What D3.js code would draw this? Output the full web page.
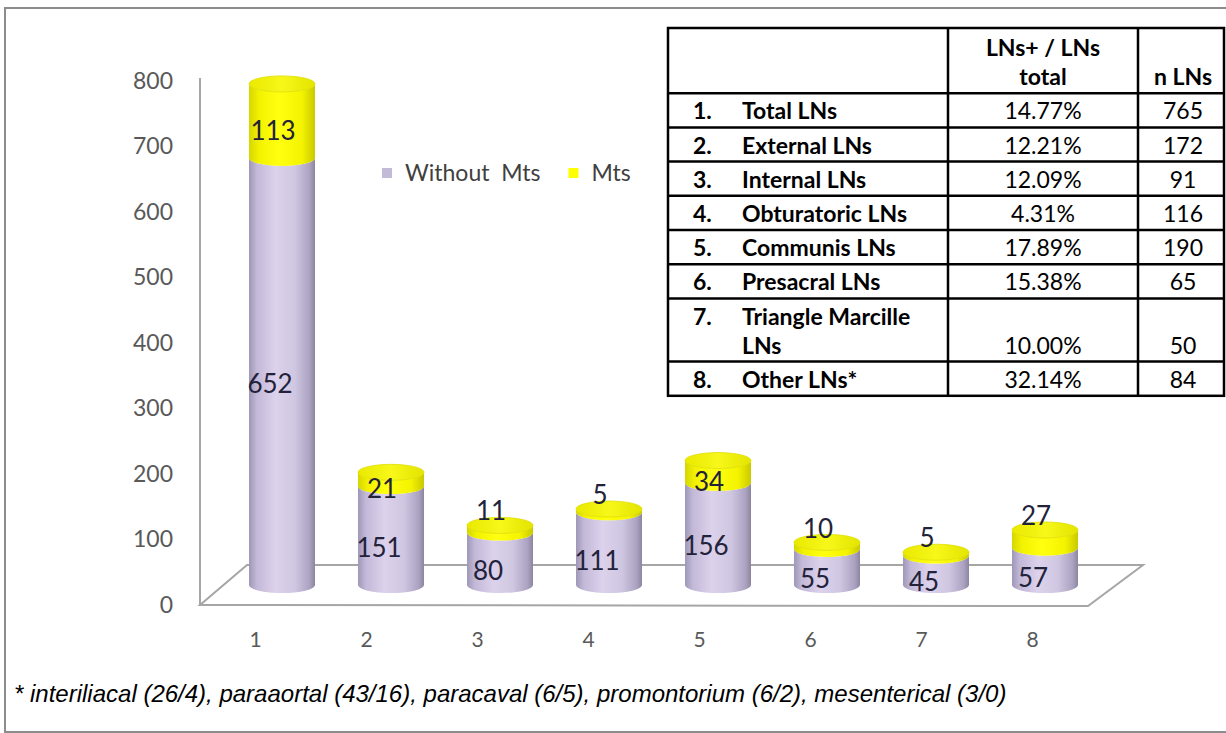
<!DOCTYPE html>
<html lang="en">
<head>
<meta charset="UTF-8">
<title>LNs with and without Mts</title>
<script src="https://cdnjs.cloudflare.com/ajax/libs/d3/7.8.5/d3.min.js"></script>
<style>
  body { margin: 0; background: #fff; overflow: hidden; }
  svg { display: block; }
</style>
</head>
<body>
<div id="chart"></div>
<script>
// chart data
const categories = ["1", "2", "3", "4", "5", "6", "7", "8"];
const withoutMts = [652, 151, 80, 111, 156, 55, 45, 57];
const mts = [113, 21, 11, 5, 34, 10, 5, 27];
const yTicks = [0, 100, 200, 300, 400, 500, 600, 700, 800];
const legendLabels = ["Without  Mts", "Mts"];

// table data
const tableHeader = ["", "LNs+ / LNs total", "n LNs"];
const tableNames = ["Total LNs", "External LNs", "Internal LNs", "Obturatoric LNs",
  "Communis LNs", "Presacral LNs", "Triangle Marcille LNs", "Other LNs*"];
const tablePct = ["14.77%", "12.21%", "12.09%", "4.31%", "17.89%", "15.38%", "10.00%", "32.14%"];
const tableN = [765, 172, 91, 116, 190, 65, 50, 84];

const footnote = "* interiliacal (26/4), paraaortal (43/16), paracaval (6/5), promontorium (6/2), mesenterical (3/0)";

const width = 1226, height = 733;
const chartFont = "Lato, 'Open Sans', sans-serif";

const svg = d3.select("#chart").append("svg")
  .attr("width", width)
  .attr("height", height);

const defs = svg.append("defs");
function hGradient(id, stops) {
  const g = defs.append("linearGradient").attr("id", id)
    .attr("x1", 0).attr("x2", 1).attr("y1", 0).attr("y2", 0);
  stops.forEach(s => g.append("stop").attr("offset", s[0]).attr("stop-color", s[1]));
}
hGradient("gPurple", [[0, "#9f97b8"], [0.12, "#c3b9d8"], [0.4, "#dcd2ec"], [0.7, "#cfc6e1"], [0.92, "#aaa2c0"], [1, "#8c859f"]]);
hGradient("gYellow", [[0, "#d6d600"], [0.15, "#f2f200"], [0.45, "#ffff10"], [0.8, "#f4f400"], [1, "#c9c900"]]);
hGradient("gTop", [[0, "#e9e900"], [0.5, "#f7f71a"], [1, "#e4e400"]]);

// outer frame
svg.append("rect")
  .attr("x", 5).attr("y", 8)
  .attr("width", 1240).attr("height", 724)
  .attr("fill", "none")
  .attr("stroke", "#8c8c8c")
  .attr("stroke-width", 2);

// scales
const y = d3.scaleLinear().domain([0, 800]).range([604, 80]);   // axis plane
const yBar = d3.scaleLinear().domain([0, 800]).range([585, 61]); // cylinder bases sit mid-floor
const x = d3.scalePoint().domain(categories).range([282, 1045]);
const xLab = d3.scalePoint().domain(categories).range([255, 1032]);

// y axis labels
const yAxis = d3.axisLeft(y).tickValues(yTicks).tickSize(0).tickPadding(0);
const yg = svg.append("g").attr("transform", "translate(173,0)").call(yAxis);
yg.select(".domain").remove();
yg.selectAll("text")
  .attr("font-family", chartFont)
  .attr("font-size", 23)
  .attr("fill", "#595959")
  .attr("dy", "0.35em");

// back wall edge and floor
const gridColor = "#a6a6a6";
svg.append("line")
  .attr("x1", 200).attr("x2", 200)
  .attr("y1", y(800) - 2).attr("y2", y(0) + 1)
  .attr("stroke", gridColor).attr("stroke-width", 2);
const floor = [[200, y(0) + 1], [1088, y(0) + 2], [1143, y(0) - 39], [247, y(0) - 39]];
svg.append("path")
  .attr("d", d3.line()(floor) + "Z")
  .attr("fill", "none")
  .attr("stroke", gridColor)
  .attr("stroke-width", 2);

// x labels
const xAxis = d3.axisBottom(xLab).tickSize(0).tickPadding(0);
const xg = svg.append("g").attr("transform", "translate(0,632)").call(xAxis);
xg.select(".domain").remove();
xg.selectAll("text")
  .attr("font-family", chartFont)
  .attr("font-size", 21)
  .attr("fill", "#595959");

// cylinders
const rx = 33, ry = 8;
function body(cx, y0, y1) {
  return `M${cx - rx},${y1} L${cx - rx},${y0} A${rx},${ry} 0 0 0 ${cx + rx},${y0} ` +
         `L${cx + rx},${y1} A${rx},${ry} 0 0 1 ${cx - rx},${y1} Z`;
}

const bars = categories.map((c, i) => ({
  c, a: withoutMts[i], b: mts[i], total: withoutMts[i] + mts[i]
}));

const g = svg.append("g");
bars.forEach(d => {
  const cx = x(d.c);
  g.append("path").attr("d", body(cx, yBar(0), yBar(d.a))).attr("fill", "url(#gPurple)");
  g.append("path").attr("d", body(cx, yBar(d.a), yBar(d.total))).attr("fill", "url(#gYellow)");
  g.append("ellipse")
    .attr("cx", cx).attr("cy", yBar(d.total))
    .attr("rx", rx).attr("ry", ry)
    .attr("fill", "url(#gTop)")
    .attr("stroke", "#dede00").attr("stroke-width", 0.8);
});

// value labels
const labelColor = "#22223a";
bars.forEach(d => {
  const cx = x(d.c);
  const yA = yBar(d.a / 2) + 12;
  let yB = yBar(d.a + d.b / 2) + 10;
  if (d.b < 12 || d.total < 100) yB = yBar(d.total) - 14;
  g.append("text")
    .attr("x", cx - 12).attr("y", yA).attr("dy", "0.35em")
    .attr("text-anchor", "middle")
    .attr("font-family", chartFont).attr("font-size", 26)
    .attr("fill", labelColor)
    .text(d.a);
  g.append("text")
    .attr("x", cx - 9).attr("y", yB).attr("dy", "0.35em")
    .attr("text-anchor", "middle")
    .attr("font-family", chartFont).attr("font-size", 26)
    .attr("fill", labelColor)
    .text(d.b);
});

// legend
const legendColors = ["#c2bad6", "#ffff00"];
const legend = svg.append("g").attr("transform", "translate(382,173)");
let lx = 0;
legendLabels.forEach((t, i) => {
  legend.append("rect").attr("x", lx).attr("y", -5).attr("width", 10).attr("height", 10)
    .attr("fill", legendColors[i]);
  const tx = legend.append("text")
    .attr("x", lx + 23).attr("y", 0).attr("dy", "0.35em")
    .attr("font-family", chartFont).attr("font-size", 23)
    .attr("fill", "#404040")
    .attr("xml:space", "preserve")
    .text(t);
  lx += 23 + tx.node().getComputedTextLength() + 28;
});

// table
const tFont = "Lato, 'Open Sans', sans-serif";
const tSize = 23;
const colX = [668, 948, 1138, 1228];
const tableRight = 1224;
const tableTop = 28, rowBase = 34.2, lineH = 29, headPad = 2;
const table = svg.append("g");

function wrap(text, maxW, bold) {
  const probe = table.append("text").attr("font-family", tFont).attr("font-size", tSize)
    .attr("font-weight", bold ? "bold" : "normal");
  const words = text.split(" ");
  const lines = [];
  let cur = "";
  words.forEach(w => {
    const t = cur ? cur + " " + w : w;
    probe.text(t);
    if (probe.node().getComputedTextLength() > maxW && cur) { lines.push(cur); cur = w; }
    else cur = t;
  });
  lines.push(cur);
  probe.remove();
  return lines;
}

const rows = [];
const headLines = wrap(tableHeader[1], colX[2] - colX[1] - 40, true);
rows.push({ head: true, name: [], pct: headLines, n: [tableHeader[2]], lines: headLines.length });
tableNames.forEach((nm, i) => {
  const lines = wrap(nm, colX[1] - 742 - 8, true);
  rows.push({ head: false, num: (i + 1) + ".", name: lines, pct: [tablePct[i]], n: [String(tableN[i])], lines: lines.length });
});

let ry0 = tableTop;
rows.forEach(r => {
  r.y0 = ry0;
  r.h = rowBase + (r.lines - 1) * lineH + (r.head ? headPad : 0);
  ry0 += r.h;
});
const tableBottom = ry0;

function cellText(lines, xPos, anchor, r, bold) {
  const first = r.y0 + r.h - rowBase / 2 - (lines.length - 1) * lineH;
  lines.forEach((t, k) => {
    table.append("text")
      .attr("x", xPos).attr("y", first + k * lineH + 1).attr("dy", "0.35em")
      .attr("text-anchor", anchor)
      .attr("font-family", tFont).attr("font-size", tSize)
      .attr("font-weight", bold ? "bold" : "normal")
      .attr("fill", "#000")
      .text(t);
  });
}

rows.forEach(r => {
  if (r.head) {
    cellText(r.pct, (colX[1] + colX[2]) / 2, "middle", r, true);
    cellText(r.n, (colX[2] + colX[3]) / 2, "middle", r, true);
  } else {
    // number and name start on the first line of the cell
    const firstLine = r.y0 + rowBase / 2 + 1;
    table.append("text")
      .attr("x", 693).attr("y", firstLine).attr("dy", "0.35em")
      .attr("font-family", tFont).attr("font-size", tSize).attr("font-weight", "bold")
      .text(r.num);
    r.name.forEach((t, k) => {
      table.append("text")
        .attr("x", 742).attr("y", firstLine + k * lineH).attr("dy", "0.35em")
        .attr("font-family", tFont).attr("font-size", tSize).attr("font-weight", "bold")
        .text(t);
    });
    cellText(r.pct, (colX[1] + colX[2]) / 2, "middle", r, false);
    cellText(r.n, (colX[2] + colX[3]) / 2, "middle", r, false);
  }
});

// grid lines of the table
table.append("rect")
  .attr("x", colX[0]).attr("y", tableTop)
  .attr("width", tableRight - colX[0]).attr("height", tableBottom - tableTop)
  .attr("fill", "none").attr("stroke", "#000").attr("stroke-width", 2.5);
[colX[1], colX[2]].forEach(cx => {
  table.append("line").attr("x1", cx).attr("x2", cx).attr("y1", tableTop).attr("y2", tableBottom)
    .attr("stroke", "#000").attr("stroke-width", 2.5);
});
rows.slice(1).forEach(r => {
  table.append("line").attr("x1", colX[0]).attr("x2", tableRight).attr("y1", r.y0).attr("y2", r.y0)
    .attr("stroke", "#000").attr("stroke-width", 2.5);
});

// footnote
svg.append("text")
  .attr("x", 14).attr("y", 694).attr("dy", "0.35em")
  .attr("font-family", "'Liberation Sans', Arial, sans-serif")
  .attr("font-style", "italic")
  .attr("font-size", 24)
  .attr("fill", "#000")
  .text(footnote);
</script>
</body>
</html>
